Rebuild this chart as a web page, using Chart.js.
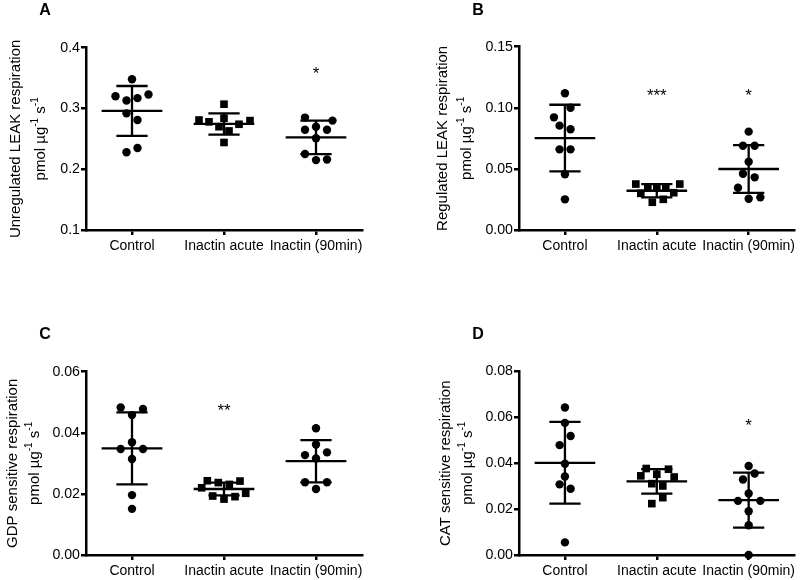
<!DOCTYPE html>
<html>
<head>
<meta charset="utf-8">
<script src="https://cdn.jsdelivr.net/npm/chart.js@4.4.0/dist/chart.umd.min.js"></script>
<style>
  body { margin: 0; background: #fff; }
  #wrap { position: relative; width: 800px; height: 580px; }
  canvas { position: absolute; }
</style>
</head>
<body>
<div id="wrap">
  <canvas id="panelA" width="400" height="290" style="left:0;top:0"></canvas>
  <canvas id="panelB" width="400" height="290" style="left:400px;top:0"></canvas>
  <canvas id="panelC" width="400" height="290" style="left:0;top:290px"></canvas>
  <canvas id="panelD" width="400" height="290" style="left:400px;top:290px"></canvas>
</div>
<script>
const groups = ['Control', 'Inactin acute', 'Inactin (90min)'];

// A: unregulated LEAK respiration
const aControl = [0.348, 0.320, 0.313, 0.317, 0.323, 0.292, 0.281, 0.228, 0.235];
const aControlJit = [0, -1.65, -0.55, 0.55, 1.65, -0.55, 0.55, -0.55, 0.55];
const aAcute = [0.307, 0.281, 0.278, 0.284, 0.270, 0.263, 0.274, 0.280, 0.244];
const aAcuteJit = [0, -2.5, -1.5, 0, -0.5, 0.5, 1.5, 2.6, 0];
const a90 = [0.285, 0.280, 0.265, 0.270, 0.265, 0.251, 0.225, 0.215, 0.216];
const a90Jit = [-1.1, 1.65, -1.1, 0, 1.1, 0, -1.1, 0, 1.1];
const aMean = [0.296, 0.2745, 0.2525];
const aSd = [0.041, 0.0175, 0.0275];
const aStars = ['', '', '*'];
const aTicks = [0.1, 0.2, 0.3, 0.4];

// B: regulated LEAK respiration
const bControl = [0.1119, 0.1001, 0.0922, 0.0854, 0.0824, 0.066, 0.066, 0.0456, 0.0251];
const bControlJit = [0, 0.56, -1.1, -0.54, 0.56, -0.54, 0.56, 0, 0];
const bAcute = [0.0376, 0.0376, 0.0300, 0.0305, 0.0346, 0.0346, 0.0346, 0.0227, 0.0251];
const bAcuteJit = [-2.1, 2.3, -1.6, 1.7, -0.9, 0, 0.9, -0.45, 0.65];
const b90 = [0.0805, 0.069, 0.069, 0.0559, 0.046, 0.0431, 0.0346, 0.0256, 0.0267];
const b90Jit = [0, -0.57, 0.6, 0, -0.57, 0.6, -1.07, 0, 1.17];
const bMean = [0.0752, 0.0321, 0.0499];
const bSd = [0.0273, 0.0054, 0.0195];
const bStars = ['', '***', '*'];
const bTicks = [0, 0.05, 0.10, 0.15];

// C: GDP sensitive respiration
const cControl = [0.0483, 0.0478, 0.0458, 0.0369, 0.0347, 0.0347, 0.0314, 0.0196, 0.0151];
const cControlJit = [-1.13, 1.1, 0, 0, -1.13, 1.1, 0, 0, 0];
const cAcute = [0.0220, 0.0243, 0.0237, 0.0231, 0.0242, 0.0193, 0.0183, 0.0191, 0.0202];
const cAcuteJit = [-2.23, -1.67, -0.57, 0.53, 1.6, -1.13, 0, 1.1, 2.17];
const c90 = [0.0415, 0.0362, 0.0327, 0.0336, 0.0316, 0.0238, 0.0238, 0.0216];
const c90Jit = [0, 0, -1.1, 1.1, 0, -1.1, 1.1, 0];
const cMean = [0.0349, 0.0216, 0.0307];
const cSd = [0.0118, 0.0021, 0.0069];
const cStars = ['', '**', ''];
const cTicks = [0, 0.02, 0.04, 0.06];

// D: CAT sensitive respiration
const dControl = [0.0643, 0.0576, 0.0519, 0.0479, 0.0398, 0.0342, 0.0308, 0.0289, 0.0055];
const dControlJit = [0, 0, 0.57, -0.53, 0, 0, -0.53, 0.57, 0];
const dAcute = [0.0345, 0.0377, 0.0352, 0.0374, 0.0340, 0.0311, 0.0301, 0.0250, 0.0224];
const dAcuteJit = [-1.6, -1.06, 0, 1.17, 1.74, -0.5, 0.6, 0.6, -0.5];
const d90 = [0.0388, 0.0355, 0.0329, 0.0268, 0.0236, 0.0236, 0.0191, 0.0130, 0];
const d90Jit = [0, 0.6, -0.57, 0, -1.07, 1.17, 0, 0, 0];
const dMean = [0.0402, 0.0321, 0.0239];
const dSd = [0.0178, 0.0053, 0.012];
const dStars = ['', '', '*'];
const dTicks = [0, 0.02, 0.04, 0.06, 0.08];

Chart.defaults.font.family = '"Liberation Sans", Arial, sans-serif';
Chart.defaults.color = '#000';

const JIT = 10 / 92; // one jitter step is about 10px of a 92px group slot

function pts(vals, jit, g) {
  return vals.map((v, i) => ({ x: g + jit[i] * JIT, y: v }));
}

// mean line, sd caps and whisker, split by null gaps
function barSegs(mean, sd) {
  const d = [];
  mean.forEach((m, g) => {
    const hi = m + sd[g], lo = m - sd[g];
    d.push({x: g - 0.33, y: m}, {x: g + 0.33, y: m}, {x: g, y: null});
    d.push({x: g - 0.17, y: hi}, {x: g + 0.17, y: hi}, {x: g, y: null});
    d.push({x: g - 0.17, y: lo}, {x: g + 0.17, y: lo}, {x: g, y: null});
    d.push({x: g, y: lo}, {x: g, y: hi}, {x: g, y: null});
  });
  return d;
}

const deco = {
  id: 'deco',
  afterDraw(chart, args, o) {
    const ctx = chart.ctx, a = chart.chartArea;
    const xs = chart.scales.x, ys = chart.scales.y;
    ctx.save();
    ctx.fillStyle = '#000';
    ctx.textAlign = 'center';
    ctx.textBaseline = 'middle';
    ctx.font = 'bold 16px "Liberation Sans", Arial, sans-serif';
    ctx.fillText(o.letter, o.letterAt[0], o.letterAt[1]);

    ctx.font = '17px "Liberation Sans", Arial, sans-serif';
    o.stars.forEach((s, g) => {
      if (s) ctx.fillText(s, xs.getPixelForValue(g), ys.getPixelForValue(o.starY) + 4);
    });

    const cy = (a.top + a.bottom) / 2;
    ctx.save();
    ctx.translate(o.titleX[0], cy);
    ctx.rotate(-Math.PI / 2);
    ctx.font = '15px "Liberation Sans", Arial, sans-serif';
    ctx.fillText(o.title, 0, 0);
    ctx.restore();

    // unit line with superscripts
    const parts = [['pmol \u00b5g', 0], ['-1', 1], [' s', 0], ['-1', 1]];
    const fN = '15px "Liberation Sans", Arial, sans-serif';
    const fS = '10px "Liberation Sans", Arial, sans-serif';
    let total = 0;
    parts.forEach(p => { ctx.font = p[1] ? fS : fN; total += ctx.measureText(p[0]).width; });
    ctx.translate(o.titleX[1], cy);
    ctx.rotate(-Math.PI / 2);
    ctx.textAlign = 'left';
    let px = -total / 2;
    parts.forEach(p => {
      ctx.font = p[1] ? fS : fN;
      ctx.fillText(p[0], px, p[1] ? -6 : 0);
      px += ctx.measureText(p[0]).width;
    });
    ctx.restore();
  }
};

function makePanel(id, c) {
  const dot = { pointStyle: 'circle', pointRadius: 4.2, backgroundColor: '#000', borderWidth: 0, clip: false };
  const sq = { pointStyle: 'rect', pointRadius: 5.4, backgroundColor: '#000', borderWidth: 0, clip: false };
  new Chart(document.getElementById(id), {
    type: 'scatter',
    data: {
      datasets: [
        { data: barSegs(c.mean, c.sd), showLine: true, borderColor: '#000', borderWidth: 2.3,
          pointRadius: 0, spanGaps: false, clip: false },
        Object.assign({ data: pts(c.vals[0], c.jits[0], 0) }, dot),
        Object.assign({ data: pts(c.vals[1], c.jits[1], 1) }, sq),
        Object.assign({ data: pts(c.vals[2], c.jits[2], 2) }, dot)
      ]
    },
    options: {
      responsive: false,
      animation: false,
      layout: { padding: c.pad },
      plugins: {
        legend: { display: false },
        tooltip: { enabled: false },
        deco: c.deco
      },
      scales: {
        x: {
          type: 'linear', min: -0.5, max: 2.5,
          afterBuildTicks: s => { s.ticks = [0, 1, 2].map(v => ({ value: v })); },
          afterFit: s => { s.height = 25; },
          ticks: { callback: v => groups[v], autoSkip: false, maxRotation: 0, padding: 3,
                   font: { size: 14 } },
          grid: { drawOnChartArea: false, drawTicks: true, tickLength: 5, color: '#000', lineWidth: 2.5 },
          border: { color: '#000', width: 2.5 }
        },
        y: {
          min: c.ticks[0], max: c.ticks[c.ticks.length - 1],
          afterBuildTicks: s => { s.ticks = c.ticks.map(v => ({ value: v })); },
          afterFit: s => { s.width = 40; },
          ticks: { callback: v => v.toFixed(c.dec), padding: 1, font: { size: 14.2 } },
          grid: { drawOnChartArea: false, drawTicks: true, tickLength: 5, color: '#000', lineWidth: 2.5 },
          border: { color: '#000', width: 2.5 }
        }
      }
    },
    plugins: [deco]
  });
}

makePanel('panelA', {
  vals: [aControl, aAcute, a90], jits: [aControlJit, aAcuteJit, a90Jit],
  mean: aMean, sd: aSd, ticks: aTicks, dec: 1,
  pad: { left: 46, top: 47.7, right: 38, bottom: 35 },
  deco: { letter: 'A', letterAt: [45, 11], stars: aStars, starY: 0.363,
          title: 'Unregulated LEAK respiration', titleX: [16, 41] }
});
makePanel('panelB', {
  vals: [bControl, bAcute, b90], jits: [bControlJit, bAcuteJit, b90Jit],
  mean: bMean, sd: bSd, ticks: bTicks, dec: 2,
  pad: { left: 79, top: 46.7, right: 3, bottom: 35 },
  deco: { letter: 'B', letterAt: [78, 11], stars: bStars, starY: 0.113,
          title: 'Regulated LEAK respiration', titleX: [43, 67] }
});
makePanel('panelC', {
  vals: [cControl, cAcute, c90], jits: [cControlJit, cAcuteJit, c90Jit],
  mean: cMean, sd: cSd, ticks: cTicks, dec: 2,
  pad: { left: 46, top: 81.7, right: 38, bottom: 0 },
  deco: { letter: 'C', letterAt: [45, 45], stars: cStars, starY: 0.0485,
          title: 'GDP sensitive respiration', titleX: [13, 35] }
});
makePanel('panelD', {
  vals: [dControl, dAcute, d90], jits: [dControlJit, dAcuteJit, d90Jit],
  mean: dMean, sd: dSd, ticks: dTicks, dec: 2,
  pad: { left: 79, top: 81.5, right: 3, bottom: 0 },
  deco: { letter: 'D', letterAt: [78, 45], stars: dStars, starY: 0.0578,
          title: 'CAT sensitive respiration', titleX: [46, 68] }
});
</script>
</body>
</html>
